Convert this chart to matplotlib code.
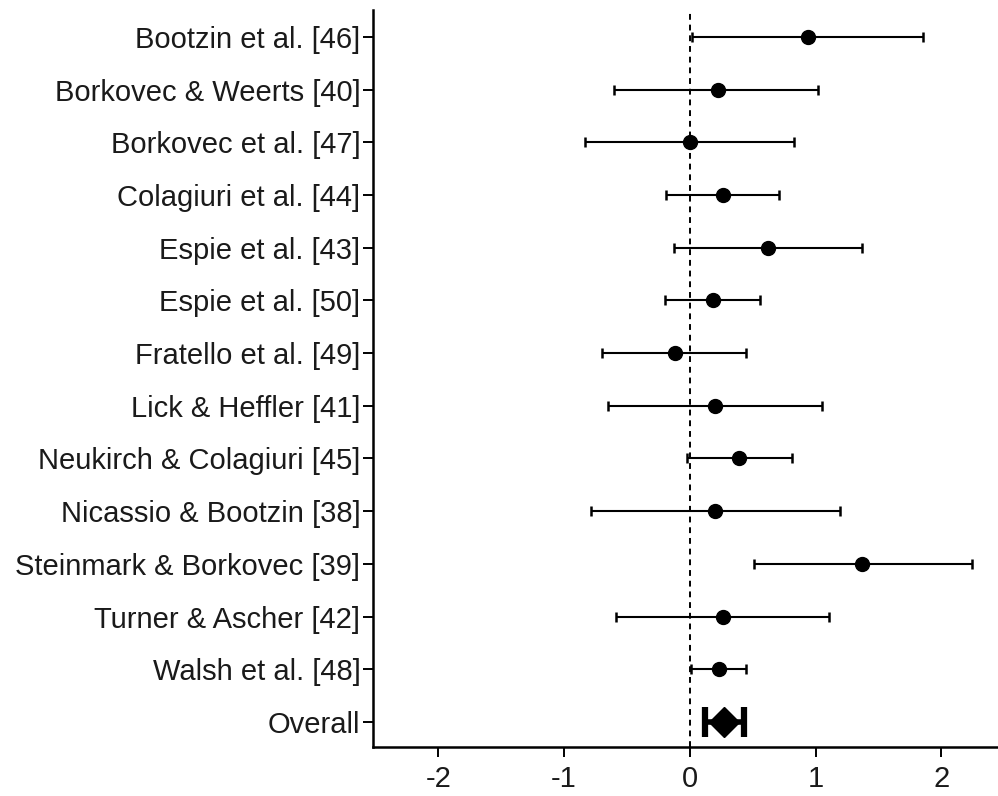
import matplotlib
matplotlib.use("Agg")
import matplotlib.pyplot as plt
import numpy as np

studies = ["Bootzin et al. [46]", "Borkovec & Weerts [40]", "Borkovec et al. [47]",
           "Colagiuri et al. [44]", "Espie et al. [43]", "Espie et al. [50]",
           "Fratello et al. [49]", "Lick & Heffler [41]", "Neukirch & Colagiuri [45]",
           "Nicassio & Bootzin [38]", "Steinmark & Borkovec [39]", "Turner & Ascher [42]",
           "Walsh et al. [48]"]
effect = [0.94, 0.22, 0.00, 0.26, 0.62, 0.18, -0.12, 0.20, 0.39, 0.20, 1.37, 0.26, 0.23]
lower = [0.02, -0.60, -0.83, -0.19, -0.13, -0.20, -0.70, -0.65, -0.02, -0.79, 0.51, -0.59, 0.01]
upper = [1.85, 1.02, 0.83, 0.71, 1.37, 0.56, 0.45, 1.05, 0.81, 1.19, 2.24, 1.11, 0.45]

overall_label = "Overall"
overall_effect = 0.27
overall_lower = 0.12
overall_upper = 0.43

xticks = [-2, -1, 0, 1, 2]

plt.rcParams['font.family'] = ['Liberation Sans', 'DejaVu Sans']

fig = plt.figure(figsize=(9.98, 7.96), dpi=100)
ax = fig.add_axes([0.3737, 0.062, 0.6263, 0.9254])

n = len(studies)
ys = np.arange(n)
eff = np.array(effect)
lo = np.array(lower)
hi = np.array(upper)
ax.errorbar(eff, ys, xerr=[eff - lo, hi - eff], fmt='o', color='black',
            ms=10, elinewidth=1.5, capsize=3.8, capthick=1.8)

oy = n
ax.errorbar([overall_effect], [oy],
            xerr=[[overall_effect - overall_lower], [overall_upper - overall_effect]],
            fmt='D', color='black', ms=15, elinewidth=4, capsize=10.5, capthick=4.5)

ax.axvline(0, color='black', ls=(0, (3, 2.5)), lw=1.4, zorder=0)

ax.set_xlim(-2.52, 2.45)
ax.set_ylim(n + 0.47, -0.51)
ax.set_yticks(list(ys) + [oy])
ax.set_yticklabels(studies + [overall_label])
ax.set_xticks(xticks)
ax.set_xticklabels([str(t) for t in xticks])

for s in ['top', 'right']:
    ax.spines[s].set_visible(False)
for s in ['left', 'bottom']:
    ax.spines[s].set_linewidth(1.8)
ax.tick_params(axis='both', length=7, width=1.4, labelsize=21, colors='black')
ax.tick_params(axis='y', pad=2)
ax.tick_params(axis='x', pad=6)
for lab in ax.get_xticklabels() + ax.get_yticklabels():
    lab.set_color('#1a1a1a')

fig.savefig("out.png", dpi=100)
